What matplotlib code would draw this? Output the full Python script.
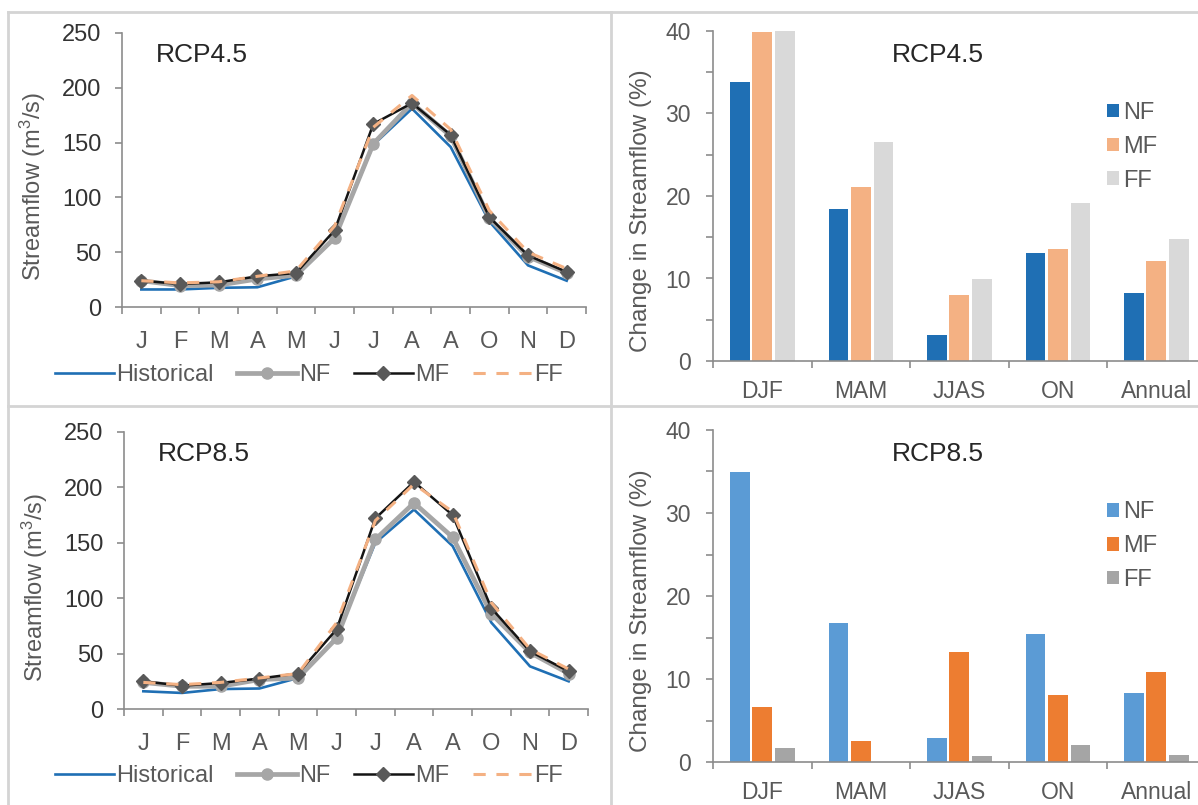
import numpy as np
import matplotlib
matplotlib.use("Agg")
from matplotlib import pyplot as plt
from matplotlib.lines import Line2D
from matplotlib.ticker import MultipleLocator, FixedLocator

plt.rcParams['font.family'] = ['Liberation Sans', 'DejaVu Sans']
plt.rcParams['mathtext.default'] = 'regular'

# ---- data ----
months = ["J", "F", "M", "A", "M", "J", "J", "A", "A", "O", "N", "D"]

hist = [16, 16, 17.5, 18, 28, 63, 148, 181, 146, 78, 38, 24]

nf45 = [24, 19.5, 20, 25.5, 29, 63, 149, 186, 156, 81, 46, 31]
mf45 = [24, 21, 22.5, 28, 31, 70, 167, 186, 157, 82, 47, 32]
ff45 = [24, 22, 23, 28, 33, 74, 164, 193, 162, 88, 50, 35]

hist85 = [16, 14.5, 18, 18.5, 28, 65, 150, 180, 147, 78, 38.5, 25]
nf85 = [24, 20.5, 20.5, 26.5, 28, 64, 153, 186, 155, 86, 51, 32]
mf85 = [25, 21, 23.5, 27.5, 32, 72, 172, 205, 175, 91, 52, 34]
ff85 = [24, 22, 24, 28, 32, 78, 170, 203, 178, 96, 54, 36]

seasons = ["DJF", "MAM", "JJAS", "ON", "Annual"]
bar_nf45 = [33.8, 18.4, 3.2, 13.1, 8.2]
bar_mf45 = [39.9, 21.1, 8.0, 13.6, 12.1]
bar_ff45 = [40.2, 26.5, 9.9, 19.1, 14.8]

bar_nf85 = [34.9, 16.8, 2.9, 15.4, 8.3]
bar_mf85 = [6.6, 2.5, 13.3, 8.1, 10.8]
bar_ff85 = [1.7, 0.0, 0.7, 2.1, 0.9]

W, H = 1198, 805
fig = plt.figure(figsize=(W / 100, H / 100), dpi=100)

def px_axes(l, t, r, b):
    return fig.add_axes([l / W, 1 - b / H, (r - l) / W, (b - t) / H])

AXC = "#8c8c8c"
TXT = "#595959"

def style_axes(ax):
    for s in ["top", "right"]:
        ax.spines[s].set_visible(False)
    for s in ["left", "bottom"]:
        ax.spines[s].set_color(AXC)
        ax.spines[s].set_linewidth(1.2)
    ax.tick_params(which="both", direction="out", color=AXC, width=1.2, length=5)

def line_panel(ax, h, nf, mf, ff, title, leg_y):
    x = np.arange(len(months))
    ax.plot(x, h, color="#1F6FB4", lw=1.9, label="Historical", zorder=2)
    ax.plot(x, nf, color="#A6A6A6", lw=3.4, marker="o", ms=8, label="NF", zorder=3)
    ax.plot(x, mf, color="#141414", lw=1.8, marker="D", ms=7.5, mfc="#595959",
            mec="#595959", label="MF", zorder=4)
    ax.plot(x, ff, color="#F4B183", lw=2.2, ls=(0, (4, 3.5)), label="FF", zorder=5)
    ax.set_xlim(-0.5, 11.5)
    ax.set_ylim(0, 250)
    style_axes(ax)
    ax.set_yticks([0, 50, 100, 150, 200, 250])
    ax.set_xticks(x)
    ax.set_xticklabels(months)
    ax.xaxis.set_minor_locator(FixedLocator(np.arange(-0.5, 12, 1)))
    ax.tick_params(axis="x", which="major", length=0, pad=17, labelsize=17, labelcolor=TXT)
    ax.tick_params(axis="y", which="major", pad=10, labelsize=17, labelcolor="#333333")
    ax.set_ylabel("Streamflow (m$^3$/s)", fontsize=17, color=TXT)
    ax.yaxis.set_label_coords(-0.16, 0.44)
    ax.text(0.073, 0.92, title, transform=ax.transAxes, fontsize=19,
            color="#262626", va="center", ha="left")
    fig.legend(*ax.get_legend_handles_labels(), loc="center", ncol=4,
               bbox_to_anchor=(309 / W, 1 - leg_y / H), frameon=False,
               fontsize=17, handlelength=2.5, handletextpad=0.1,
               columnspacing=1.0, labelcolor=TXT)

def bar_panel(ax, nf, mf, ff, colors, title):
    x = np.arange(len(seasons))
    w = 0.2
    ax.bar(x - 0.225, nf, w, color=colors[0], label="NF")
    ax.bar(x, mf, w, color=colors[1], label="MF")
    ax.bar(x + 0.23, ff, w, color=colors[2], label="FF")
    ax.set_xlim(-0.5, 4.5)
    ax.set_ylim(0, 40)
    style_axes(ax)
    ax.yaxis.set_major_locator(MultipleLocator(10))
    ax.yaxis.set_minor_locator(MultipleLocator(5))
    ax.set_xticks(x)
    ax.set_xticklabels(seasons)
    ax.xaxis.set_minor_locator(FixedLocator(np.arange(-0.5, 5, 1)))
    ax.tick_params(axis="x", which="major", length=0, pad=14, labelsize=16.5, labelcolor=TXT)
    ax.tick_params(axis="y", which="major", pad=11, labelsize=16.5, labelcolor=TXT)
    ax.set_ylabel("Change in Streamflow (%)", fontsize=17.5, color=TXT)
    ax.yaxis.set_label_coords(-0.124, 0.457)
    ax.text(0.457, 0.927, title, transform=ax.transAxes, fontsize=19,
            color="#262626", va="center", ha="center")
    ax.legend(loc="upper left", bbox_to_anchor=(0.80, 0.785), frameon=False,
              fontsize=17, handlelength=0.5, handleheight=0.5,
              handletextpad=0.2, labelspacing=0.5, borderpad=0,
              borderaxespad=0, labelcolor=TXT)

ax1 = px_axes(122, 33, 586, 307)
line_panel(ax1, hist, nf45, mf45, ff45, "RCP4.5", 375)

ax3 = px_axes(124, 432, 588, 709)
line_panel(ax3, hist85, nf85, mf85, ff85, "RCP8.5", 776)

ax2 = px_axes(713, 31, 1205.5, 361)
bar_panel(ax2, bar_nf45, bar_mf45, bar_ff45, ["#1F6FB4", "#F4B183", "#D9D9D9"], "RCP4.5")

ax4 = px_axes(713, 430, 1205.5, 762)
bar_panel(ax4, bar_nf85, bar_mf85, bar_ff85, ["#5B9BD5", "#ED7D31", "#A5A5A5"], "RCP8.5")

# panel frames
FR = "#d4d4d4"
for (x0, y0, x1, y1) in [(8, 12, 8, 805), (611, 12, 611, 805),
                         (8, 12, 1198, 12), (8, 406, 1198, 406)]:
    fig.add_artist(Line2D([x0 / W, x1 / W], [1 - y0 / H, 1 - y1 / H],
                          transform=fig.transFigure, color=FR, lw=2))

fig.savefig("out.png", dpi=100)
